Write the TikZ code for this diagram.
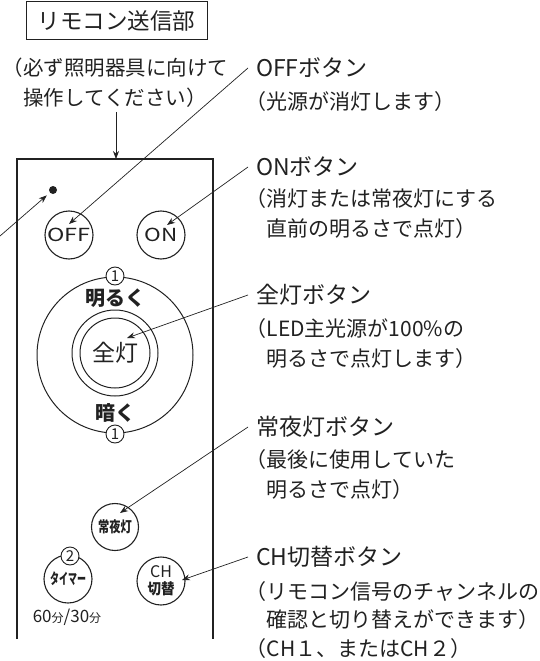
\documentclass[tikz,border=0pt]{standalone}
\usepackage{fontspec}
\usepackage{graphicx}
\setmainfont{Noto Sans CJK JP}
\usetikzlibrary{arrows.meta}

\definecolor{ink}{gray}{0.13}
% half width brackets
\newcommand{\lp}{\makebox[0.5em][r]{（}}
\newcommand{\rp}{\makebox[0.5em][l]{）}}
\newcommand{\fun}{{\fontsize{12}{12}\selectfont 分}}

\begin{document}
\begin{tikzpicture}[x=1pt,y=-1pt,
  every node/.style={inner sep=0pt,text=ink},
  btn/.style={draw=ink,circle,line width=1.1pt,minimum size=48pt},
  ring/.style={draw=ink,circle,line width=1pt},
  num/.style={draw=ink,circle,fill=white,line width=0.9pt,minimum size=18pt,font=\fontsize{15}{15}\selectfont},
  lead/.style={draw=ink,line width=0.7pt,-{Stealth[length=8pt,width=6pt]}},
  title/.style={anchor=west,font=\fontsize{23}{23}\selectfont},
  desc/.style={anchor=north west,align=left,font=\fontsize{21}{30.5}\selectfont},
  bold/.style={font=\fontsize{20}{20}\selectfont\bfseries}]
\useasboundingbox (0,0) rectangle (540,661);

% header and hint
\node[draw=ink,line width=0.8pt,minimum width=181pt,minimum height=38pt,font=\fontsize{22.5}{22.5}\selectfont] at (116.5,20.5)(head){リモコン送信部};
\node[desc,font=\fontsize{20.5}{30}\selectfont] at (13,58)(aim){\lp 必ず照明器具に向けて\\\hspace*{0.5em}操作してください\rp};

% remote body, open at the bottom
\draw[ink,line width=1.2pt] (17,639) |- (213,159) -- (213,639);
\coordinate (rtop) at (116,159);
\draw[lead,shorten <=4pt] (aim.south -| rtop) -- (rtop);

% transmitter
\node[fill=ink,circle,minimum size=8pt] at (53,190)(led){};
\coordinate (irsrc) at (0,236);
\draw[lead,shorten >=4pt] (irsrc) -- (led);

% buttons
\node[btn,font=\fontsize{18}{18}\selectfont] at (69,235)(off){\scalebox{1.3}[1]{OFF}};
\node[btn,font=\fontsize{18}{18}\selectfont] at (161,235)(on){\scalebox{1.25}[1]{ON}};
\node[ring,minimum size=156pt] at (115,355)(dim){};
\node[num] at (115,276)(up){1};
\node[bold] at (115,298)(bright){明るく};
\node[bold] at (115,413)(dark){暗く};
\node[num] at (115,434)(down){1};
\node[ring,minimum size=86pt] at (115,353)(fullo){};
\node[ring,minimum size=70pt,font=\fontsize{23}{23}\selectfont] at (115,353)(full){全灯};
\node[btn,minimum size=47pt,font=\fontsize{15}{15}\selectfont\bfseries] at (115,527)(night){\scalebox{0.75}[1]{常夜灯}};
\node[btn,font=\fontsize{15}{15}\selectfont\bfseries] at (68,579)(timer){\scalebox{0.6}[1]{タイマー}};
\node[num] at (70,556)(two){2};
\node[font=\fontsize{17}{17}\selectfont] at (67,617)(span){60\fun/30\fun};
\node[btn,align=center,font=\fontsize{16}{17}\selectfont] at (161,581)(chg){CH\\{\fontsize{15}{15}\selectfont\bfseries\scalebox{0.9}[1]{切替}}};

% captions
\node[title] at (256,68)(offt){OFFボタン};
\node[desc] at (256,91)(offd){\lp 光源が消灯します\rp};
\node[title] at (256,167)(ont){ONボタン};
\node[desc] at (256,188)(ond){\lp 消灯または常夜灯にする\\\hspace*{0.5em}直前の明るさで点灯\rp};
\node[title] at (256,295)(fullt){全灯ボタン};
\node[desc] at (256,318)(fulld){\lp LED主光源が100\%の\\\hspace*{0.5em}明るさで点灯します\rp};
\node[title] at (256,427)(nightt){常夜灯ボタン};
\node[desc] at (256,449)(nightd){\lp 最後に使用していた\\\hspace*{0.5em}明るさで点灯\rp};
\node[title] at (256,557)(chgt){CH切替ボタン};
\node[desc,font=\fontsize{21}{28.5}\selectfont] at (256,581)(chgd){\lp リモコン信号のチャンネルの\\\hspace*{0.5em}確認と切り替えができます\rp\\\lp CH１、またはCH２\rp};

% leaders
\draw[lead] ([xshift=-8pt]offt.west) -- ([shift={(0pt,11pt)}]off.center);
\draw[lead] ([xshift=-8pt]ont.west) -- ([shift={(6pt,10pt)}]on.center);
\draw[lead] ([xshift=-8pt]fullt.west) -- ([shift={(12pt,15pt)}]full.center);
\draw[lead] ([xshift=-8pt]nightt.west) -- ([shift={(5pt,14pt)}]night.center);
\draw[lead] ([xshift=-8pt]chgt.west) -- ([shift={(21pt,1pt)}]chg.center);
\end{tikzpicture}
\end{document}
